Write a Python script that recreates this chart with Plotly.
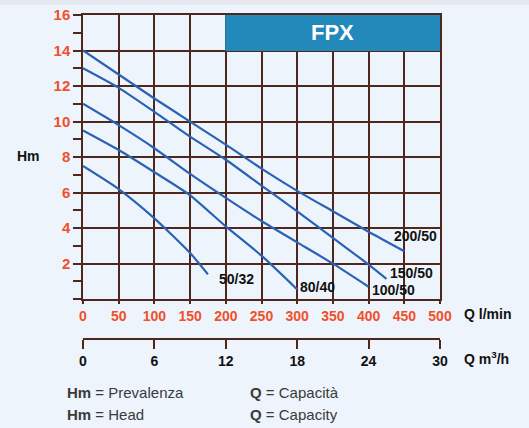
import plotly.graph_objects as go

# ---- data ----
q_200_50 = [0, 50, 100, 150, 200, 250, 300, 350, 400, 450]
h_200_50 = [14, 12.65, 11.3, 10, 8.7, 7.35, 6.1, 4.95, 3.8, 2.7]
q_150_50 = [0, 50, 100, 150, 200, 250, 300, 350, 400, 425]
h_150_50 = [13, 11.9, 10.55, 9.15, 7.85, 6.4, 4.95, 3.45, 1.95, 1.15]
q_100_50 = [0, 50, 100, 150, 200, 250, 300, 350, 400]
h_100_50 = [11, 9.8, 8.5, 7.05, 5.7, 4.4, 3.2, 2.0, 0.7]
q_80_40 = [0, 50, 100, 150, 200, 250, 300]
h_80_40 = [9.5, 8.4, 7.15, 5.85, 4.1, 2.45, 0.55]
q_50_32 = [0, 50, 100, 150, 175]
h_50_32 = [7.5, 6.2, 4.55, 2.6, 1.4]

series_names = ["200/50", "150/50", "100/50", "80/40", "50/32"]
label_q = [465, 460, 435, 329, 215]
label_h = [3.55, 1.5, 0.5, 0.7, 1.15]

x_ticks_lmin = [0, 50, 100, 150, 200, 250, 300, 350, 400, 450, 500]
x_ticks_m3h = [0, 6, 12, 18, 24, 30]
y_ticks = [2, 4, 6, 8, 10, 12, 14, 16]

W, H = 529, 428
ML, MR, MT, MB = 83, 89, 15, 89
PW = W - ML - MR
PH = H - MT - MB
Y_BOTTOM_PX = 299.2
ydom0 = (H - MB - Y_BOTTOM_PX) / PH

def px_x(px):
    return (px - ML) / PW

def px_y(py):
    return (H - MB - py) / PH

BG = "#EEF4FB"
GRID = "#4f271c"
BLUE = "#2a63b3"
RED = "#F0502A"
SANS = "Liberation Sans, Arial, sans-serif"

fig = go.Figure()
all_q = [q_200_50, q_150_50, q_100_50, q_80_40, q_50_32]
all_h = [h_200_50, h_150_50, h_100_50, h_80_40, h_50_32]
for name, qs, hs in zip(series_names, all_q, all_h):
    fig.add_trace(go.Scatter(x=qs, y=hs, mode="lines", name=name,
                             line=dict(color=BLUE, width=2.2, shape="spline", smoothing=0.6),
                             showlegend=False, hoverinfo="skip"))

# invisible trace on secondary x axis (m3/h)
fig.add_trace(go.Scatter(x=[x_ticks_m3h[0], x_ticks_m3h[-1]], y=[None, None], xaxis="x2",
                         mode="lines", showlegend=False, hoverinfo="skip"))

# curve labels
for name, lq, lh in zip(series_names, label_q, label_h):
    fig.add_annotation(x=lq, y=lh, xref="x", yref="y", text="<b>" + name + "</b>",
                       xanchor="center", yanchor="middle",
                       showarrow=False, font=dict(family=SANS, size=14, color="#111"))

# FPX box
fig.add_shape(type="rect", x0=200, x1=500, y0=14, y1=16, xref="x", yref="y",
              fillcolor="#2389BB", line=dict(color="#2389BB", width=1), layer="above")
fig.add_annotation(x=350, y=15, xref="x", yref="y", text="<b>FPX</b>", showarrow=False,
                   xanchor="center", yanchor="middle",
                   font=dict(family=SANS, size=22, color="white"))

# subtle top shading band
fig.add_shape(type="rect", xref="paper", yref="paper", x0=px_x(0), x1=px_x(W),
              y0=px_y(5), y1=px_y(0), fillcolor="#E5E9EF", line=dict(width=0), layer="below")

# axis titles
fig.add_annotation(x=px_x(28), y=px_y(156), xref="paper", yref="paper", text="<b>Hm</b>",
                   xanchor="center", yanchor="middle",
                   showarrow=False, font=dict(family=SANS, size=14, color="#111"))
fig.add_annotation(x=px_x(462), y=px_y(314), xref="paper", yref="paper", text="<b>Q l/min</b>",
                   xanchor="left", yanchor="middle",
                   showarrow=False, font=dict(family=SANS, size=14, color="#111"))
fig.add_annotation(x=px_x(462), y=px_y(358), xref="paper", yref="paper", text="<b>Q m<sup>3</sup>/h</b>",
                   xanchor="left", yanchor="middle",
                   showarrow=False, font=dict(family=SANS, size=14, color="#111"))

# legend-like text at bottom
bottom_texts = [
    (65, 392, "<b>Hm</b> = Prevalenza"),
    (65, 414, "<b>Hm</b> = Head"),
    (248, 392, "<b>Q</b> = Capacità"),
    (248, 414, "<b>Q</b> = Capacity"),
]
for bx, by, t in bottom_texts:
    fig.add_annotation(x=px_x(bx), y=px_y(by), xref="paper", yref="paper", text=t,
                       xanchor="left", yanchor="middle", showarrow=False,
                       font=dict(family=SANS, size=15, color="#3a3a3a"))

fig.update_layout(
    width=W, height=H,
    margin=dict(l=ML, r=MR, t=MT, b=MB, pad=0, autoexpand=False),
    paper_bgcolor=BG, plot_bgcolor=BG,
    xaxis=dict(range=[0, 500], tickvals=x_ticks_lmin, ticks="outside", ticklen=3,
               tickcolor=GRID, tickwidth=1.5, automargin=False,
               showgrid=True, gridcolor=GRID, gridwidth=1.5,
               showline=True, linecolor=GRID, linewidth=1.5, mirror=True,
               zeroline=False, anchor="y",
               tickfont=dict(family=SANS, size=14, color=RED, weight="bold")),
    xaxis2=dict(range=[0, 30], tickvals=x_ticks_m3h, overlaying="x", anchor="free", position=0,
                side="bottom", ticks="outside", ticklen=9, tickcolor=GRID, tickwidth=1.5,
                automargin=False,
                showline=True, linecolor=GRID, linewidth=1.5, showgrid=False, zeroline=False,
                tickfont=dict(family=SANS, size=14, color="#111", weight="bold")),
    yaxis=dict(range=[0, 16], domain=[ydom0, 1], tickvals=y_ticks,
               ticks="outside", ticklen=8, tickcolor=GRID, tickwidth=1.5, automargin=False,
               minor=dict(dtick=1, ticks="outside", ticklen=8, tickcolor=GRID, tickwidth=1.5, showgrid=False),
               showgrid=True, gridcolor=GRID, gridwidth=1.5,
               showline=True, linecolor=GRID, linewidth=1.5, mirror=True,
               zeroline=False,
               tickfont=dict(family=SANS, size=15, color=RED, weight="bold")),
)

fig.write_html("out.html", config={"displayModeBar": False},
               post_script="document.body.style.margin='0';")
